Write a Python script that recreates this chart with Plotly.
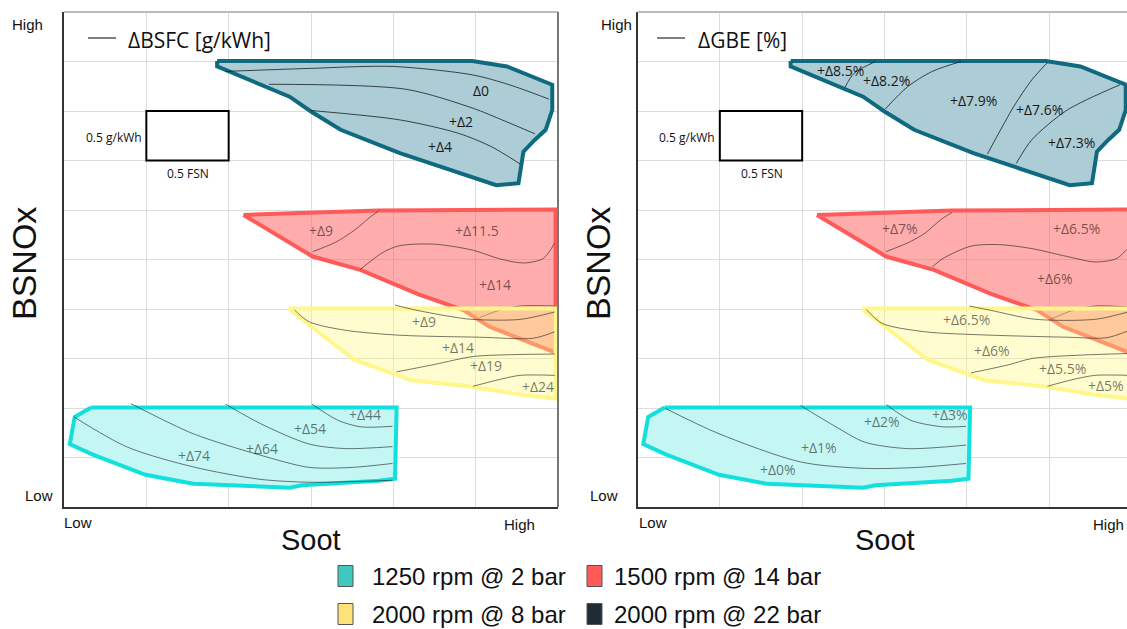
import plotly.graph_objects as go

W, H = 1127, 629

# ---------------- data (grid units: Soot 0-6, BSNOx 0-10) ----------------
# operating-point regions (same in both panels)
DARK_X = [1.86, 4.96, 5.38, 5.93, 5.93, 5.85, 5.72, 5.58, 5.52, 5.25, 4.08, 3.36, 3.00, 2.74, 1.86, 1.86]
DARK_Y = [9.01, 9.01, 8.90, 8.53, 8.02, 7.62, 7.42, 7.18, 6.54, 6.50, 7.15, 7.62, 7.99, 8.29, 8.90, 9.01]

RED_X = [2.18, 3.02, 3.60, 4.30, 4.85, 5.17, 5.97, 5.97, 3.82, 2.18]
RED_Y = [5.90, 5.06, 4.79, 4.30, 3.98, 3.64, 3.12, 6.01, 5.99, 5.90]

YEL_X = [2.73, 2.80, 3.53, 4.22, 4.96, 5.58, 5.97, 5.97, 2.73]
YEL_Y = [4.01, 3.91, 2.97, 2.56, 2.43, 2.26, 2.19, 4.01, 4.01]

CYAN_X = [0.33, 4.04, 4.02, 3.82, 2.89, 2.74, 1.57, 0.99, 0.35, 0.07, 0.13, 0.33]
CYAN_Y = [2.01, 2.01, 0.57, 0.53, 0.44, 0.39, 0.47, 0.65, 1.06, 1.27, 1.82, 2.01]

# iso-lines, left panel (dBSFC)
BSFC_DARK_LINES = [
    [(1.96, 8.80), (2.98, 8.86), (3.99, 8.90), (4.96, 8.73), (5.41, 8.53), (5.89, 8.24)],
    [(2.49, 8.54), (4.15, 8.44), (4.96, 8.06), (5.35, 7.80), (5.72, 7.54)],
    [(3.00, 8.01), (4.08, 7.82), (4.79, 7.55), (5.19, 7.28), (5.54, 6.93)],
]
BSFC_RED_LINES = [
    [(3.02, 5.16), (3.30, 5.35), (3.55, 5.62), (3.72, 5.86), (3.82, 5.98)],
    [(3.60, 4.80), (3.88, 5.15), (4.08, 5.28), (4.50, 5.31), (4.96, 5.19), (5.30, 5.01), (5.58, 4.93), (5.82, 5.02), (5.96, 5.33)],
    [(5.05, 3.83), (5.30, 3.98), (5.54, 4.06), (5.96, 4.06)],
]
BSFC_YEL_LINES = [
    [(4.02, 4.08), (4.24, 3.99), (4.65, 3.86), (4.96, 3.79), (5.54, 3.79), (5.96, 3.94)],
    [(2.80, 3.98), (2.98, 3.74), (3.42, 3.57), (4.08, 3.47), (5.05, 3.43), (5.70, 3.41), (5.96, 3.54)],
    [(4.04, 2.73), (4.50, 2.88), (4.97, 3.04), (5.50, 3.08), (5.96, 3.09)],
    [(4.97, 2.44), (5.30, 2.58), (5.54, 2.66), (5.96, 2.66)],
]
BSFC_CYAN_LINES = [
    [(0.12, 1.82), (0.77, 1.21), (1.57, 0.81), (2.38, 0.56), (3.00, 0.50), (3.99, 0.54)],
    [(0.81, 2.09), (1.57, 1.48), (2.38, 1.05), (2.98, 0.80), (3.50, 0.80), (3.99, 0.88)],
    [(1.96, 2.08), (2.38, 1.69), (2.98, 1.27), (3.42, 1.18), (3.99, 1.22)],
    [(3.01, 2.08), (3.33, 1.75), (3.60, 1.62), (3.99, 1.63)],
]

# iso-lines, right panel (dGBE)
GBE_DARK_LINES = [
    [(2.52, 8.48), (2.63, 8.76), (2.89, 9.00)],
    [(3.01, 8.04), (3.28, 8.49), (3.58, 8.80), (3.93, 9.00)],
    [(4.25, 7.13), (4.57, 8.09), (4.79, 8.63), (4.98, 8.98)],
    [(4.60, 6.94), (4.79, 7.42), (5.22, 8.02), (5.86, 8.53)],
]
GBE_RED_LINES = [
    [(3.02, 5.16), (3.30, 5.35), (3.49, 5.53), (3.68, 5.80), (3.82, 5.95)],
    [(3.58, 4.85), (3.71, 5.02), (4.05, 5.27), (4.40, 5.30), (4.79, 5.22), (5.22, 5.06), (5.56, 4.95), (5.82, 5.02), (5.94, 5.20)],
    [(5.00, 3.78), (5.30, 3.98), (5.56, 4.06), (5.96, 4.04)],
]
GBE_YEL_LINES = [
    [(4.03, 4.06), (4.30, 3.97), (4.79, 3.80), (5.22, 3.77), (5.60, 3.80), (5.96, 3.94)],
    [(2.78, 3.99), (2.97, 3.71), (3.49, 3.54), (4.14, 3.48), (5.22, 3.43), (5.70, 3.42), (5.96, 3.56)],
    [(4.05, 2.71), (4.50, 2.87), (4.79, 3.00), (5.40, 3.07), (5.96, 3.10)],
    [(4.98, 2.44), (5.30, 2.58), (5.56, 2.66), (5.96, 2.66)],
]
GBE_CYAN_LINES = [
    [(0.34, 1.99), (0.99, 1.48), (1.98, 0.91), (2.76, 0.78), (3.40, 0.80), (3.99, 0.88)],
    [(1.98, 2.05), (2.41, 1.62), (2.76, 1.31), (3.28, 1.18), (3.99, 1.25)],
    [(3.02, 2.07), (3.32, 1.75), (3.71, 1.62), (3.99, 1.63)],
]

# region labels (text, x, y)
BSFC_LABELS_DARK = [("Δ0", 5.06, 8.41), ("+Δ2", 4.82, 7.79), ("+Δ4", 4.57, 7.28)]
BSFC_LABELS_OTHER = [
    ("+Δ9", 3.12, 5.58), ("+Δ11.5", 5.02, 5.58), ("+Δ14", 5.23, 4.50),
    ("+Δ9", 4.37, 3.74), ("+Δ14", 4.78, 3.22), ("+Δ19", 5.12, 2.85), ("+Δ24", 5.76, 2.44),
    ("+Δ44", 3.66, 1.87), ("+Δ54", 2.99, 1.58), ("+Δ64", 2.40, 1.18), ("+Δ74", 1.58, 1.05),
]
GBE_LABELS_DARK = [("+Δ8.5%", 2.46, 8.81), ("+Δ8.2%", 3.02, 8.62), ("+Δ7.9%", 4.08, 8.22),
                   ("+Δ7.6%", 4.88, 8.04), ("+Δ7.3%", 5.27, 7.36)]
GBE_LABELS_OTHER = [
    ("+Δ7%", 3.19, 5.63), ("+Δ6.5%", 5.33, 5.63), ("+Δ6%", 5.07, 4.62),
    ("+Δ6.5%", 3.99, 3.79), ("+Δ6%", 4.31, 3.16), ("+Δ5.5%", 5.16, 2.80), ("+Δ5%", 5.69, 2.46),
    ("+Δ3%", 3.79, 1.87), ("+Δ2%", 2.97, 1.73), ("+Δ1%", 2.21, 1.20), ("+Δ0%", 1.71, 0.76),
]

LEGEND_LABELS = ["1250 rpm @ 2 bar", "1500 rpm @ 14 bar", "2000 rpm @ 8 bar", "2000 rpm @ 22 bar"]
LEGEND_COLORS = ["#40c8c0", "#ff5a5a", "#fde27a", "#1f2b35"]
PANEL_TITLES = ["ΔBSFC [g/kWh]", "ΔGBE [%]"]

# ---------------- styles ----------------
DARK_LINE, DARK_FILL = "#0f6a80", "#adcdd6"
RED_LINE, RED_FILL = "#ff5a5a", "rgba(255,90,90,0.5)"
YEL_LINE, YEL_FILL = "#fff68c", "rgba(255,250,130,0.38)"
CYAN_LINE, CYAN_FILL = "#12e0dc", "#c4f6f4"
ISO_COLOR = "rgba(30,30,30,0.6)"
ISO_DARK = "rgba(20,30,35,0.8)"

fig = go.Figure()


def px_x(p):
    return p / W


def px_y(p):
    return 1 - p / H


def add_poly(xs, ys, fill, border, xa, ya):
    fig.add_trace(go.Scatter(x=xs, y=ys, mode="lines", fill="toself", fillcolor=fill,
                             line=dict(color=border, width=4), xaxis=xa, yaxis=ya,
                             hoverinfo="skip", showlegend=False))


def add_lines(lines, color, xa, ya):
    for ln in lines:
        fig.add_trace(go.Scatter(x=[p[0] for p in ln], y=[p[1] for p in ln], mode="lines",
                                 line=dict(color=color, width=1, shape="spline", smoothing=0.8),
                                 xaxis=xa, yaxis=ya, hoverinfo="skip", showlegend=False))


panels = [
    ("x", "y", BSFC_DARK_LINES, BSFC_RED_LINES, BSFC_YEL_LINES, BSFC_CYAN_LINES),
    ("x2", "y2", GBE_DARK_LINES, GBE_RED_LINES, GBE_YEL_LINES, GBE_CYAN_LINES),
]
for xa, ya, dl, rl, yl, cl in panels:
    add_poly(DARK_X, DARK_Y, DARK_FILL, DARK_LINE, xa, ya)
    add_lines(dl, ISO_DARK, xa, ya)
    add_poly(RED_X, RED_Y, RED_FILL, RED_LINE, xa, ya)
    add_lines(rl, ISO_COLOR, xa, ya)
    add_poly(YEL_X, YEL_Y, YEL_FILL, YEL_LINE, xa, ya)
    add_lines(yl, ISO_COLOR, xa, ya)
    add_poly(CYAN_X, CYAN_Y, CYAN_FILL, CYAN_LINE, xa, ya)
    add_lines(cl, ISO_COLOR, xa, ya)

annotations = []
shapes = []

LBL_FONT = "Open Sans"
AX_FONT = "Liberation Sans, Arial, sans-serif"

for (xr, yr, dark_lbls, other_lbls) in [("x", "y", BSFC_LABELS_DARK, BSFC_LABELS_OTHER),
                                         ("x2", "y2", GBE_LABELS_DARK, GBE_LABELS_OTHER)]:
    for t, x, y in dark_lbls:
        annotations.append(dict(text=t, x=x, y=y, xref=xr, yref=yr, showarrow=False,
                                font=dict(family=LBL_FONT, size=14, color="#1a1a1a")))
    for t, x, y in other_lbls:
        annotations.append(dict(text=t, x=x, y=y, xref=xr, yref=yr, showarrow=False,
                                font=dict(family=LBL_FONT, size=14, color="rgba(0,0,0,0.55)")))
    # scale box
    shapes.append(dict(type="rect", xref=xr, yref=yr, x0=1, x1=2, y0=7, y1=8,
                       line=dict(color="black", width=2)))
    # frame (top, and right for left panel)
    shapes.append(dict(type="line", xref=f"{xr} domain", yref=f"{yr} domain", x0=0, x1=1, y0=1, y1=1,
                       line=dict(color="#bcbcbc", width=2)))

shapes.append(dict(type="line", xref="x domain", yref="y domain", x0=1, x1=1, y0=0, y1=1,
                   line=dict(color="#777777", width=2)))

# panel-specific texts (pixel positions)
panel_px = [
    dict(ox=64.0, title=PANEL_TITLES[0], lx0=88, lx1=116, tx=126, scale_r=144, fsn=187.5,
         yhigh=27, ylow=39, xlow=78, xhigh=519, soot=311, bsnox=24),
    dict(ox=637.5, title=PANEL_TITLES[1], lx0=657, lx1=685, tx=696, scale_r=717, fsn=761.5,
         yhigh=616, ylow=604, xlow=653, xhigh=1108, soot=885, bsnox=598),
]
for p in panel_px:
    shapes.append(dict(type="line", xref="paper", yref="paper", x0=px_x(p["lx0"]), x1=px_x(p["lx1"]),
                       y0=px_y(38), y1=px_y(38), line=dict(color="black", width=1)))
    annotations.append(dict(text=p["title"], x=px_x(p["tx"]), y=px_y(40), xref="paper", yref="paper",
                            xanchor="left", yanchor="middle", showarrow=False,
                            font=dict(family=LBL_FONT, size=21, color="#111")))
    annotations.append(dict(text="0.5 g/kWh", x=px_x(p["scale_r"]), y=px_y(137), xref="paper", yref="paper",
                            xanchor="right", yanchor="middle", showarrow=False,
                            font=dict(family=LBL_FONT, size=12, color="#111")))
    annotations.append(dict(text="0.5 FSN", x=px_x(p["fsn"]), y=px_y(173), xref="paper", yref="paper",
                            xanchor="center", yanchor="middle", showarrow=False,
                            font=dict(family=LBL_FONT, size=12, color="#111")))
    for t, xx, yy in [("High", p["yhigh"], 25), ("Low", p["ylow"], 495),
                      ("Low", p["xlow"], 522), ("High", p["xhigh"], 524)]:
        annotations.append(dict(text=t, x=px_x(xx), y=px_y(yy), xref="paper", yref="paper",
                                xanchor="center", yanchor="middle", showarrow=False,
                                font=dict(family=AX_FONT, size=15, color="#111")))
    annotations.append(dict(text="Soot", x=px_x(p["soot"]), y=px_y(540), xref="paper", yref="paper",
                            xanchor="center", yanchor="middle", showarrow=False,
                            font=dict(family=AX_FONT, size=29, color="#111")))
    annotations.append(dict(text="BSNOx", x=px_x(p["bsnox"]), y=px_y(264), xref="paper", yref="paper",
                            xanchor="center", yanchor="middle", showarrow=False, textangle=-90,
                            font=dict(family=AX_FONT, size=34, color="#111")))

# legend (manual, 2 x 2)
leg_pos = [(338, 370, 576), (587, 612, 576), (338, 370, 614), (587, 612, 614)]
for lab, col, (sx, tx, cy) in zip(LEGEND_LABELS, LEGEND_COLORS, leg_pos):
    shapes.append(dict(type="rect", xref="paper", yref="paper", x0=px_x(sx), x1=px_x(sx + 15),
                       y0=px_y(cy + 10.5), y1=px_y(cy - 10.5), fillcolor=col,
                       line=dict(color="#555", width=1)))
    annotations.append(dict(text=lab, x=px_x(tx), y=px_y(cy), xref="paper", yref="paper",
                            xanchor="left", yanchor="middle", showarrow=False,
                            font=dict(family=AX_FONT, size=24, color="#111")))

axis_common = dict(showgrid=True, gridcolor="#dcdcdc", gridwidth=1, dtick=1, tick0=0,
                   showticklabels=False, ticks="", zeroline=False, showline=True,
                   linecolor="#333333", linewidth=2, fixedrange=True)

y_dom = [px_y(507), px_y(12)]
fig.update_layout(
    width=W, height=H,
    margin=dict(l=0, r=0, t=0, b=0),
    paper_bgcolor="white", plot_bgcolor="white",
    showlegend=False,
    xaxis=dict(domain=[px_x(64), px_x(558)], range=[0, 6], anchor="y", **axis_common),
    yaxis=dict(domain=y_dom, range=[0, 10], anchor="x", **axis_common),
    xaxis2=dict(domain=[px_x(637.5), 1.0], range=[0, (W - 637.5) / (494 / 6)], anchor="y2", **axis_common),
    yaxis2=dict(domain=y_dom, range=[0, 10], anchor="x2", **axis_common),
    annotations=annotations,
    shapes=shapes,
)

fig.write_html("out.html")
